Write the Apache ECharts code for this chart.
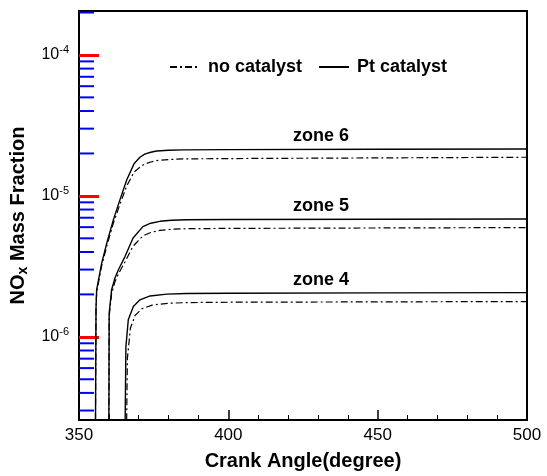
<!DOCTYPE html>
<html>
<head>
<meta charset="utf-8">
<script src="https://cdn.jsdelivr.net/npm/echarts@6/dist/echarts.min.js"></script>
<style>
  html, body { margin: 0; padding: 0; background: #fff; }
  #chart { width: 547px; height: 476px; }
</style>
</head>
<body>
<div id="chart"></div>
<script>
// crank angle (degree) / NOx mass fraction
var angle6 = [355.5, 355.7, 355.9, 357.6, 359.3, 361.5, 363.7, 366, 368.5, 370.4, 372, 374, 376, 380, 385, 400, 450, 500];
var pt6 = [2e-7, 1.6e-6, 2.15e-6, 3.33e-6, 4.62e-6, 6.76e-6, 9.37e-6, 1.3e-5, 1.7e-5, 1.88e-5, 1.98e-5, 2.04e-5, 2.08e-5, 2.11e-5, 2.12e-5, 2.13e-5, 2.14e-5, 2.15e-5];
var noCat6 = [2e-7, 1.55e-6, 2.05e-6, 3.2e-6, 4.4e-6, 6.4e-6, 8.7e-6, 1.18e-5, 1.48e-5, 1.6e-5, 1.68e-5, 1.74e-5, 1.78e-5, 1.81e-5, 1.83e-5, 1.84e-5, 1.86e-5, 1.88e-5];

var angle5 = [360.0, 360.1, 360.9, 362, 363.2, 365.4, 368.1, 371.4, 374, 377.1, 381, 386, 400, 450, 500];
var pt5 = [2e-7, 1.47e-6, 2.15e-6, 2.6e-6, 2.99e-6, 3.71e-6, 5.03e-6, 6.05e-6, 6.4e-6, 6.6e-6, 6.72e-6, 6.77e-6, 6.8e-6, 6.83e-6, 6.86e-6];
var noCat5 = [2e-7, 1.4e-6, 2.0e-6, 2.45e-6, 2.8e-6, 3.4e-6, 4.4e-6, 5.2e-6, 5.5e-6, 5.7e-6, 5.8e-6, 5.85e-6, 5.88e-6, 5.92e-6, 5.96e-6];

var angle4 = [365.4, 365.7, 366.5, 368.2, 370.4, 373.8, 379.4, 386, 400, 450, 500];
var pt4 = [2e-7, 8.5e-7, 1.32e-6, 1.64e-6, 1.83e-6, 1.95e-6, 2.01e-6, 2.03e-6, 2.04e-6, 2.05e-6, 2.06e-6];
var angle4b = [365.9, 366.2, 367.2, 368.8, 371, 374.5, 380, 386, 400, 450, 500];
var noCat4 = [2e-7, 7e-7, 1.15e-6, 1.42e-6, 1.58e-6, 1.68e-6, 1.73e-6, 1.75e-6, 1.76e-6, 1.77e-6, 1.78e-6];

var zoneNames = ['zone 4', 'zone 5', 'zone 6'];
var zoneLabelAngle = 431;
var yMajor = [1e-6, 1e-5, 1e-4];
var yMinor = [3e-7, 4e-7, 5e-7, 6e-7, 7e-7, 8e-7, 9e-7,
  2e-6, 3e-6, 4e-6, 5e-6, 6e-6, 7e-6, 8e-6, 9e-6,
  2e-5, 3e-5, 4e-5, 5e-5, 6e-5, 7e-5, 8e-5, 9e-5, 2e-4];

function pairs(xs, ys) {
  var out = [];
  for (var i = 0; i < xs.length; i++) out.push([xs[i], ys[i]]);
  return out;
}

var font = "'Liberation Sans', Arial, Helvetica, sans-serif";
var dashDot = [7, 3, 2, 3];

function ptSeries(data, zone) {
  return {
    name: 'Pt catalyst', type: 'line', data: data, color: '#000',
    symbol: 'none', lineStyle: { color: '#000', width: 1.4 },
    markPoint: {
      symbol: 'circle', symbolSize: 0,
      label: {
        show: true, position: 'top', distance: 4,
        formatter: zone, color: '#000', fontWeight: 'bold',
        fontSize: 18, fontFamily: font
      },
      data: [{ coord: [zoneLabelAngle, data[data.length - 1][1]] }]
    }
  };
}
function noCatSeries(data) {
  return {
    name: 'no catalyst', type: 'line', data: data, color: '#000',
    symbol: 'none', lineStyle: { color: '#000', width: 1.2, type: dashDot }
  };
}
// y ticks drawn as a custom series, placed through the log axis
function yTickSeries(values, len, width, color) {
  return {
    type: 'custom', silent: true, clip: false, z: 10,
    data: values.map(function (v) { return [350, v]; }),
    encode: { x: 0, y: 1 },
    renderItem: function (params, api) {
      var p = api.coord([api.value(0), api.value(1)]);
      return {
        type: 'line',
        shape: { x1: p[0], y1: p[1], x2: p[0] + len, y2: p[1] },
        style: { stroke: color, lineWidth: width }
      };
    }
  };
}

var chart = echarts.init(document.getElementById('chart'));
chart.setOption({
  animation: false,
  backgroundColor: '#fff',
  grid: { left: 79, right: 20, top: 11, bottom: 55, show: true, borderColor: '#000', borderWidth: 2 },
  legend: {
    data: ['no catalyst', 'Pt catalyst'],
    left: 164, top: 53, itemWidth: 30, itemHeight: 10, itemGap: 16,
    itemStyle: { color: 'rgba(0,0,0,0)', borderWidth: 0 },
    textStyle: { color: '#000', fontWeight: 'bold', fontSize: 18, fontFamily: font, padding: [0, 0, 0, 3] }
  },
  xAxis: {
    type: 'value', min: 350, max: 500, interval: 50,
    name: 'Crank Angle(degree)', nameLocation: 'middle', nameGap: 31,
    nameTextStyle: { color: '#000', fontWeight: 'bold', fontSize: 20, fontFamily: font },
    axisLine: { show: true, lineStyle: { color: '#000', width: 2 } },
    axisTick: { show: true, inside: true, length: 10, lineStyle: { color: '#000', width: 1.5 } },
    minorTick: { show: true, splitNumber: 5, length: 5, lineStyle: { color: '#000', width: 1 } },
    axisLabel: { color: '#000', fontSize: 17, fontFamily: font, margin: 7 },
    splitLine: { show: false }
  },
  yAxis: {
    type: 'log', logBase: 10, min: 2.57e-7, max: 2.05e-4,
    name: '{a|NO}{b|x}{a| Mass Fraction}', nameLocation: 'middle', nameGap: 46,
    nameTextStyle: {
      color: '#000', fontFamily: font,
      rich: {
        a: { fontSize: 20, fontWeight: 'bold', color: '#000', fontFamily: font, lineHeight: 24 },
        b: { fontSize: 14, fontWeight: 'bold', color: '#000', fontFamily: font, verticalAlign: 'top', padding: [11, 0, 0, 0] }
      }
    },
    axisLine: { show: true, lineStyle: { color: '#000', width: 2 } },
    axisTick: { show: true, inside: true, length: 20, customValues: yMajor, lineStyle: { color: 'red', width: 3 } },
    axisLabel: {
      color: '#000', margin: 10, customValues: yMajor,
      formatter: function (v) {
        return '{b|10}{s|' + Math.round(Math.log10(v)) + '}';
      },
      rich: {
        b: { fontSize: 16, color: '#000', fontFamily: font },
        s: { fontSize: 11, color: '#000', fontFamily: font, verticalAlign: 'bottom', padding: [0, 0, 9, 0] }
      }
    },
    splitLine: { show: false }
  },
  series: [
    noCatSeries(pairs(angle6, noCat6)),
    ptSeries(pairs(angle6, pt6), zoneNames[2]),
    noCatSeries(pairs(angle5, noCat5)),
    ptSeries(pairs(angle5, pt5), zoneNames[1]),
    noCatSeries(pairs(angle4b, noCat4)),
    ptSeries(pairs(angle4, pt4), zoneNames[0]),
    yTickSeries(yMinor, 15, 2, 'blue')
  ]
});
</script>
</body>
</html>
